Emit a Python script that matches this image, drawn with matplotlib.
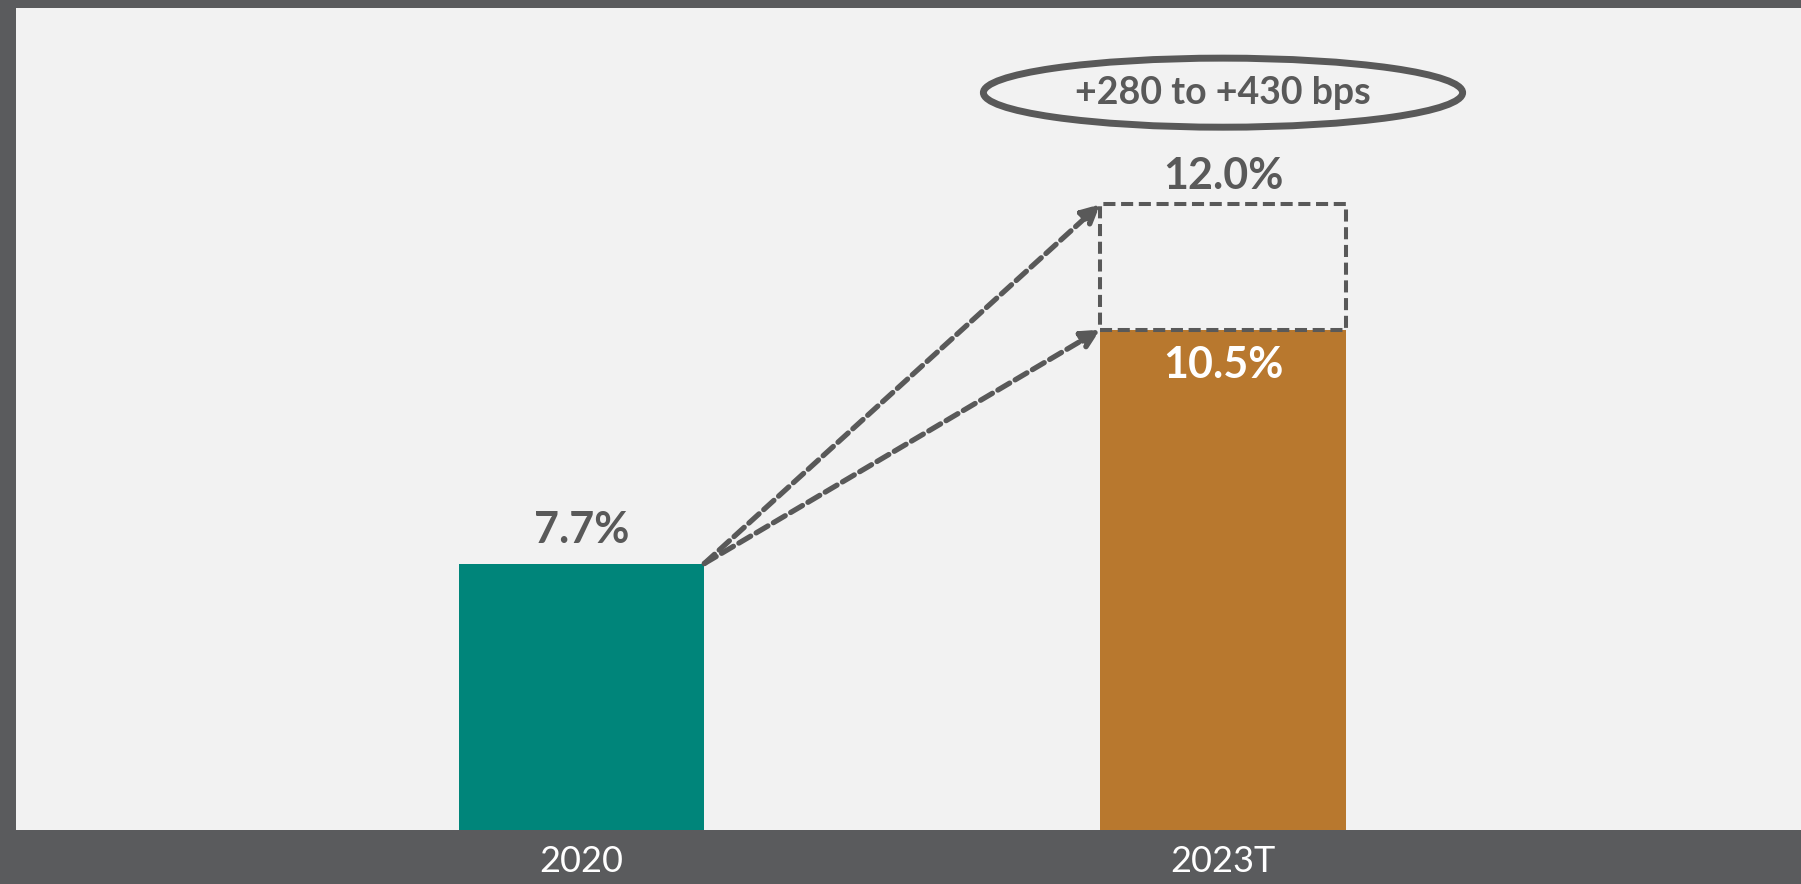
import matplotlib.pyplot as plt
from matplotlib.patches import Ellipse, Rectangle
from matplotlib.transforms import blended_transform_factory

plt.rcParams['font.family'] = ['Lato', 'DejaVu Sans']

# data
years = ['2020', '2023T']
margins = [7.7, 10.5]
target_high = 12.0
bar_colors = ['#00857a', '#b8782e']
range_label = '+280 to +430 bps'

dark = '#5a5b5d'
grey = '#595959'

fig = plt.figure(figsize=(18.01, 8.84), dpi=100, facecolor=dark)
ax = fig.add_axes([16 / 1801, 54 / 884, 1785 / 1801, 822 / 884])
ax.set_facecolor('#f2f2f2')

x = [0, 1]
w = 0.383
ax.bar(x, margins, width=w, color=bar_colors, zorder=2)

ax.set_xlim(-0.8815, 1.901)
ax.set_ylim(4.51, 14.35)

# value labels
ax.annotate('%.1f%%' % margins[0], (x[0], margins[0]), xytext=(0, 15), textcoords='offset points',
            ha='center', va='baseline', fontsize=31, fontweight='bold', color=grey)
ax.annotate('%.1f%%' % margins[1], (x[1], margins[1]), xytext=(0, -34.5), textcoords='offset points',
            ha='center', va='baseline', fontsize=31, fontweight='bold', color='white', zorder=5)
ax.annotate('%.1f%%' % target_high, (x[1], target_high), xytext=(0, 11), textcoords='offset points',
            ha='center', va='baseline', fontsize=31, fontweight='bold', color=grey)

# dashed target box
ax.add_patch(Rectangle((x[1] - w / 2, margins[1]), w, target_high - margins[1], fill=False,
                       ec=grey, lw=2.9, ls=(0, (3, 1.4)), zorder=4))

# arrows from 2020 bar to 2023T range
for val in [target_high, margins[1]]:
    ax.annotate('', xy=(x[1] - w / 2, val), xytext=(x[0] + w / 2, margins[0]),
                arrowprops=dict(arrowstyle='-|>,head_length=0.6,head_width=0.3', mutation_scale=18,
                                color=grey, lw=3.8, ls=(0, (2.6, 1.2)), shrinkA=0, shrinkB=0),
                zorder=4)

# ellipse with bps range
trans = blended_transform_factory(ax.transData, ax.transAxes)
ax.add_patch(Ellipse((x[1], 0.897), 0.747, 0.084, transform=trans, fill=False, ec=grey, lw=5))
ax.text(x[1], 0.897, range_label, transform=trans, ha='center', va='center',
        fontsize=27, fontweight='bold', color=grey)

ax.set_xticks(x, years)
ax.set_yticks([])
ax.tick_params(axis='x', length=0, pad=11, labelsize=26, labelcolor='white')
for s in ax.spines.values():
    s.set_visible(False)

fig.savefig('out.png', dpi=100, facecolor=dark)
